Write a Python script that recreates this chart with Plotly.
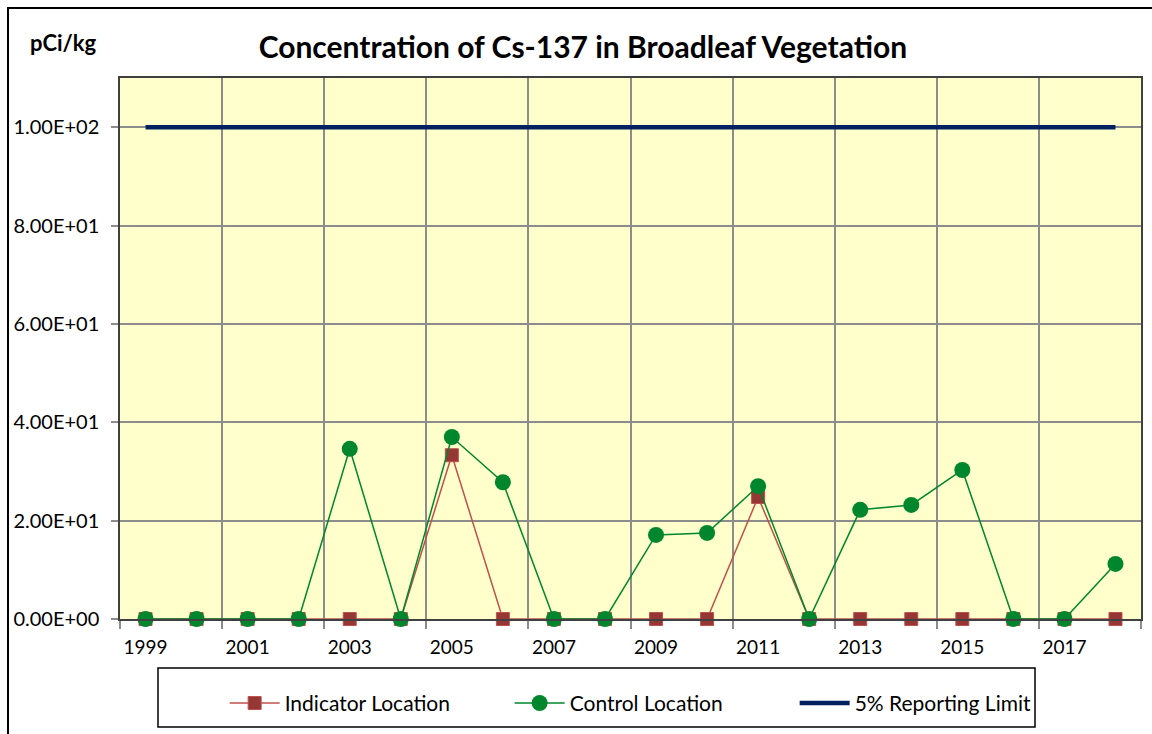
import plotly.graph_objects as go

years = list(range(1999, 2019))
indicator = [0, 0, 0, 0, 0, 0, 33.3, 0, 0, 0, 0, 0, 24.8, 0, 0, 0, 0, 0, 0, 0]
control = [0, 0, 0, 0, 34.6, 0, 37.0, 27.8, 0, 0, 17.1, 17.5, 27.0, 0, 22.2, 23.2, 30.3, 0, 0, 11.2]
reporting_limit = [100] * 20

y_tickvals = [0, 20, 40, 60, 80, 100]
y_ticktext = ["0.00E+00", "2.00E+01", "4.00E+01", "6.00E+01", "8.00E+01", "1.00E+02"]
x_tickvals = list(range(1999, 2019, 2))
x_ticktext = [str(y) for y in x_tickvals]

FONT = "Lato"

fig = go.Figure()
fig.add_trace(go.Scatter(
    x=years, y=indicator, name="Indicator Location", mode="lines+markers",
    line=dict(color="#C0504D", width=1.5),
    marker=dict(symbol="square", size=13, color="#953735", line=dict(color="#C0504D", width=1)),
    cliponaxis=False))
fig.add_trace(go.Scatter(
    x=years, y=control, name="Control Location", mode="lines+markers",
    line=dict(color="#00862D", width=1.5),
    marker=dict(symbol="circle", size=16, color="#00862D"),
    cliponaxis=False))
fig.add_trace(go.Scatter(
    x=years, y=reporting_limit, name="5% Reporting Limit", mode="lines",
    line=dict(color="#002060", width=4.5),
    cliponaxis=False))

fig.update_layout(
    width=1152, height=734,
    margin=dict(l=120, r=11, t=78, b=115, autoexpand=False),
    paper_bgcolor="white", plot_bgcolor="#FFFFCC",
    font=dict(family=FONT, size=18, color="black"),
    title=dict(text="<b>Concentration of Cs-137 in Broadleaf Vegetation</b>",
               x=0.506, xanchor="center", y=0.935, yanchor="middle",
               font=dict(family=FONT, size=30, color="black")),
    showlegend=True,
    legend=dict(orientation="h", x=0.1025, xanchor="left", y=-0.118, yanchor="top",
                bgcolor="rgba(0,0,0,0)", borderwidth=0,
                font=dict(family=FONT, size=21),
                entrywidth=220, entrywidthmode="pixels", itemwidth=50),
    shapes=[
        dict(type="rect", xref="paper", yref="paper",
             x0=(158 - 120) / 1021, x1=(1035 - 120) / 1021,
             y0=(619 - 727) / 541, y1=(619 - 668) / 541,
             line=dict(color="black", width=1.5), fillcolor="rgba(0,0,0,0)"),
        dict(type="rect", xref="paper", yref="paper",
             x0=(8 - 120) / 1021, x1=(1160 - 120) / 1021,
             y0=(619 - 760) / 541, y1=(619 - 8) / 541,
             line=dict(color="black", width=2), fillcolor="rgba(0,0,0,0)", layer="below"),
    ],
    annotations=[dict(text="<b>pCi/kg</b>", xref="paper", yref="paper",
                      x=(63 - 120) / 1021, y=(619 - 42) / 541, xanchor="center", yanchor="middle",
                      showarrow=False, font=dict(family=FONT, size=22, color="black"))],
)

fig.update_xaxes(
    range=[1998.5, 2018.5], tickvals=x_tickvals, ticktext=x_ticktext,
    showgrid=False, ticks="", showline=True, linecolor="#404040", linewidth=1.5,
    mirror=True, zeroline=False, tickfont=dict(size=19), automargin=False,
    ticklabelstandoff=10,
    minor=dict(tick0=1998.5, dtick=2, showgrid=True, gridcolor="#8C8C8C", gridwidth=1.5,
               ticks="outside", ticklen=8, tickcolor="#8C8C8C", tickwidth=1.5),
)
fig.update_yaxes(
    range=[0, 110], tickvals=y_tickvals, ticktext=y_ticktext,
    showgrid=True, gridcolor="#8C8C8C", gridwidth=1.5,
    ticks="outside", ticklen=7, tickcolor="#8C8C8C", tickwidth=1.5,
    showline=True, linecolor="#404040", linewidth=1.5, mirror=True, zeroline=False,
    tickfont=dict(size=20), automargin=False, ticklabelstandoff=8,
)

fig.write_html("out.html", config={"displayModeBar": False},
               post_script="document.body.style.margin='0';document.body.style.overflow='hidden';")
